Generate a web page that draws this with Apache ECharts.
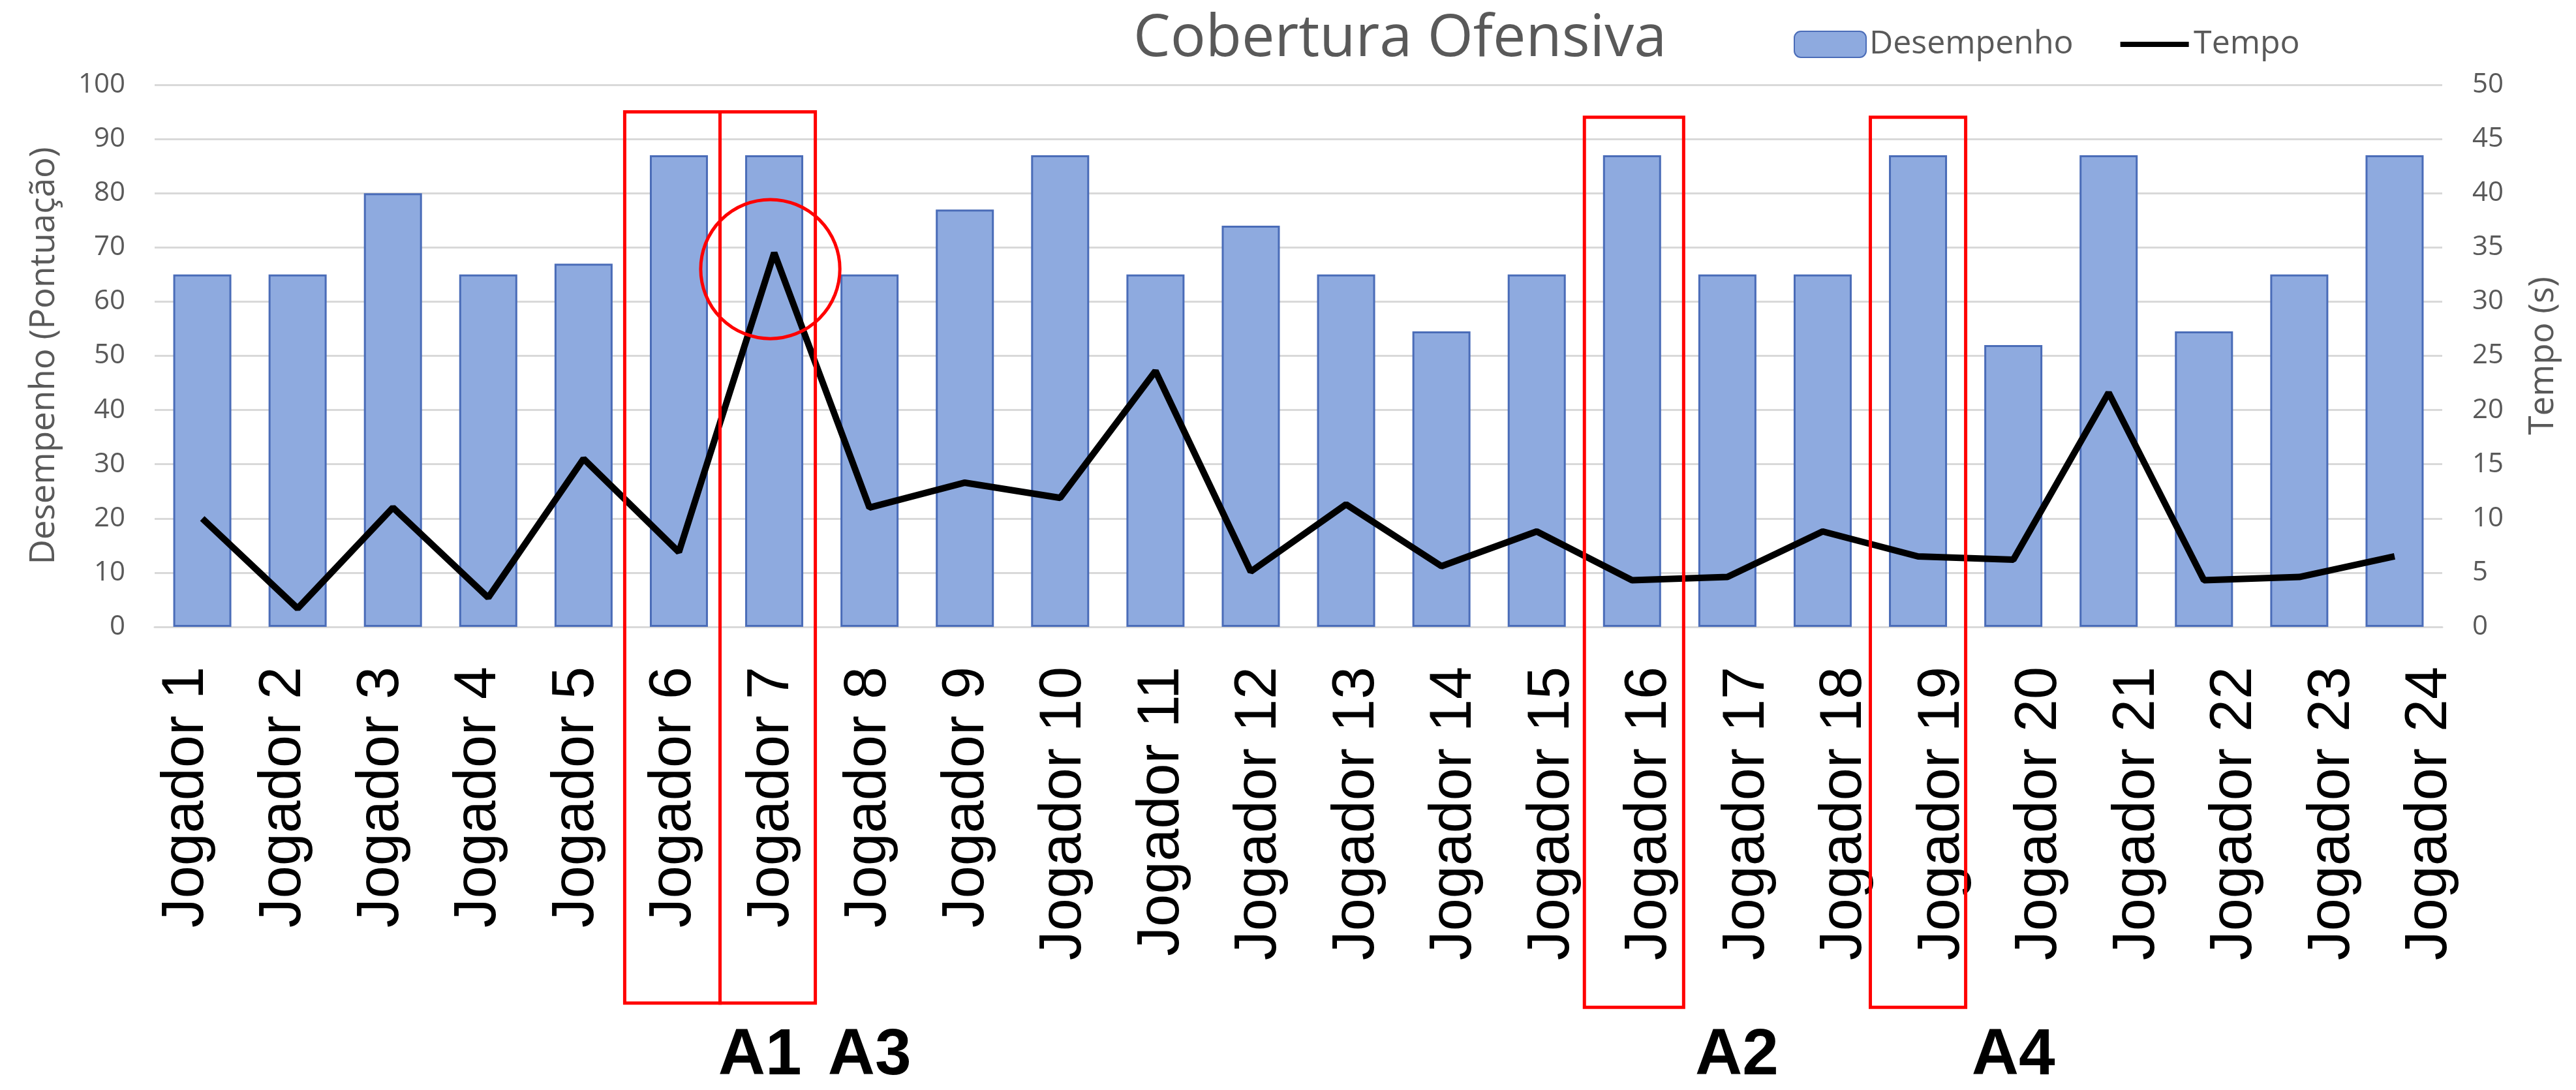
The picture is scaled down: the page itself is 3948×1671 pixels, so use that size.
<!DOCTYPE html>
<html>
<head>
<meta charset="utf-8">
<script src="https://cdn.jsdelivr.net/npm/echarts@6/dist/echarts.min.js"></script>
<style>
html,body{margin:0;padding:0;background:#fff;}
#chart{width:3948px;height:1671px;}
</style>
</head>
<body>
<div id="chart"></div>
<script>
const categories = ['Jogador 1','Jogador 2','Jogador 3','Jogador 4','Jogador 5','Jogador 6','Jogador 7','Jogador 8','Jogador 9','Jogador 10','Jogador 11','Jogador 12','Jogador 13','Jogador 14','Jogador 15','Jogador 16','Jogador 17','Jogador 18','Jogador 19','Jogador 20','Jogador 21','Jogador 22','Jogador 23','Jogador 24'];
const desempenho = [65,65,80,65,67,87,87,65,77,87,65,74,65,54.5,65,87,65,65,87,52,87,54.5,65,87];
const tempo = [10,1.7,11,2.7,15.5,6.9,34.5,11,13.3,11.9,23.6,5.1,11.3,5.6,8.8,4.3,4.6,8.8,6.5,6.2,21.6,4.3,4.6,6.5];
const leftAxis = {min:0, max:100, interval:10};
const rightAxis = {min:0, max:50, interval:5};
const titleText = 'Cobertura Ofensiva';
const seriesNames = ['Desempenho','Tempo'];
const leftAxisName = 'Desempenho (Pontuação)';
const rightAxisName = 'Tempo (s)';
// annotations
const boxCategories = ['Jogador 6','Jogador 7','Jogador 16','Jogador 19'];
const annotationLabels = ['A1','A3','A2','A4'];
const labelCategories = ['Jogador 7','Jogador 8','Jogador 17','Jogador 20'];
const labelShift = [-0.15, 0, 0.1, 0];
const circleCategory = 'Jogador 7';
const circleValue = 33;

const GREY = '#595959';
const lineIcon = 'path://M0,0L0.01,0L0.01,0.01Z M0,16L105,16L105,24L0,24Z M104.99,39.99L105,39.99L105,40Z';
const chart = echarts.init(document.getElementById('chart'), null, {renderer:'canvas'});
const option = {
  backgroundColor:'#ffffff',
  animation:false,
  title:{text:titleText, left:1732, top:10,
    textStyle:{fontFamily:'Open Sans', fontSize:90, fontWeight:'normal', color:GREY}},
  legend:{left:2744, top:38, itemWidth:110, itemHeight:40, itemGap:72,
    textStyle:{fontFamily:'Open Sans', fontSize:50, color:GREY},
    data:[{name:seriesNames[0]},
          {name:seriesNames[1], icon:lineIcon, itemStyle:{color:'#000', borderWidth:0}}]},
  grid:[
    {left:237, right:205, top:130, bottom:710, containLabel:false},
    {left:211, right:149, top:961, height:1, containLabel:false}
  ],
  xAxis:[
    {type:'category', gridIndex:0, data:categories, boundaryGap:true,
      axisLine:{show:true, lineStyle:{color:'#d9d9d9', width:3}},
      axisTick:{show:false}, axisLabel:{show:false}, splitLine:{show:false}},
    {type:'category', gridIndex:1, data:categories, boundaryGap:true,
      axisLine:{show:false}, axisTick:{show:false}, splitLine:{show:false},
      axisLabel:{show:true, rotate:90, margin:60, interval:0,
        fontFamily:'Liberation Sans', fontSize:90, color:'#000'}}
  ],
  yAxis:[
    {type:'value', gridIndex:0, min:leftAxis.min, max:leftAxis.max, interval:leftAxis.interval,
      name:leftAxisName, nameLocation:'middle', nameGap:143,
      nameTextStyle:{fontFamily:'Open Sans', fontSize:53, color:GREY},
      axisLine:{show:false}, axisTick:{show:false},
      axisLabel:{margin:45, fontFamily:'Open Sans', fontSize:42, color:GREY},
      splitLine:{show:true, lineStyle:{color:'#d9d9d9', width:3}}},
    {type:'value', gridIndex:0, position:'right', min:rightAxis.min, max:rightAxis.max, interval:rightAxis.interval,
      name:rightAxisName, nameLocation:'middle', nameGap:128,
      nameTextStyle:{fontFamily:'Open Sans', fontSize:53, color:GREY},
      axisLine:{show:false}, axisTick:{show:false},
      axisLabel:{margin:46, fontFamily:'Open Sans', fontSize:42, color:GREY},
      splitLine:{show:false}},
    {type:'value', gridIndex:1, show:false}
  ],
  series:[
    {name:seriesNames[0], type:'bar', xAxisIndex:0, yAxisIndex:0, data:desempenho, barWidth:89,
      itemStyle:{color:'#8eaadf', borderColor:'#4a6cb8', borderWidth:3}, z:2},
    {name:seriesNames[1], type:'line', xAxisIndex:0, yAxisIndex:1, data:tempo, symbol:'none',
      lineStyle:{color:'#000', width:10}, itemStyle:{color:'#000'}, z:3}
  ]
};
chart.setOption(option);

// annotations derived from axis scales
const px = (cat, val, yi) => chart.convertToPixel({xAxisIndex:0, yAxisIndex:yi}, [cat, val]);
const c0 = px(categories[0], 0, 0), c1 = px(categories[1], 0, 0);
const band = c1[0] - c0[0];
const graphics = [];
boxCategories.forEach((cat, i) => {
  const top = px(cat, i < 2 ? 95 : 94, 0);
  const bot = px(cat, i < 2 ? -69.4 : -70.2, 0);
  graphics.push({type:'rect', z:100, silent:true,
    shape:{x: top[0] - band/2 - (i<2 ? 10 : 0), y: top[1], width: band + (i==2 ? 6 : 0), height: bot[1]-top[1]},
    style:{fill:'none', stroke:'#ff0000', lineWidth:5}});
});
const cc = px(circleCategory, circleValue, 1);
graphics.push({type:'circle', z:100, silent:true,
  shape:{cx: cc[0]-6, cy: cc[1], r: band*0.73},
  style:{fill:'none', stroke:'#ff0000', lineWidth:5}});
annotationLabels.forEach((t, i) => {
  const p = px(labelCategories[i], -79.2, 0);
  graphics.push({type:'text', z:100, silent:true,
    style:{text:t, x: p[0] + labelShift[i]*band, y: p[1], textAlign:'center', textVerticalAlign:'middle',
      font:'bold 100px "Liberation Sans"', fill:'#000'}});
});
chart.setOption({graphic:graphics});
</script>
</body>
</html>
